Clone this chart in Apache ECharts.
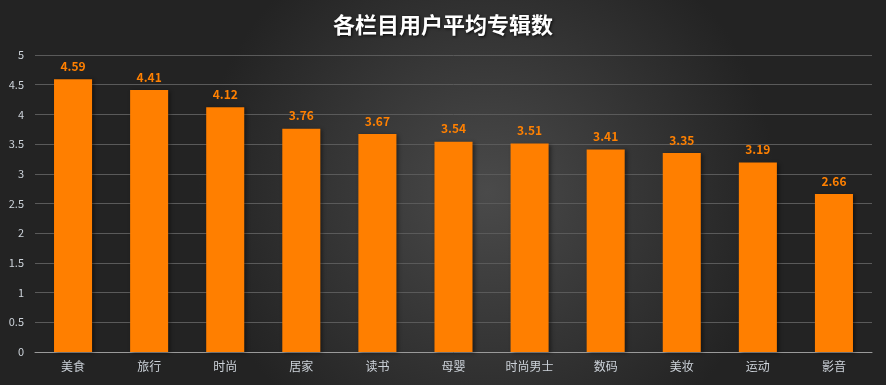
<!DOCTYPE html>
<html><head><meta charset="utf-8">
<script src="https://cdn.jsdelivr.net/npm/echarts@6/dist/echarts.min.js"></script>
<style>html,body{margin:0;padding:0;}#c{width:886px;height:385px;}</style>
</head><body><div id="c"></div>
<script>
const categories = ['美食','旅行','时尚','居家','读书','母婴','时尚男士','数码','美妆','运动','影音'];
const values = [4.59,4.41,4.12,3.76,3.67,3.54,3.51,3.41,3.35,3.19,2.66];
const yTicks = [0,0.5,1,1.5,2,2.5,3,3.5,4,4.5,5];
const title = '各栏目用户平均专辑数';
const chart = echarts.init(document.getElementById('c'));
const font = '"Noto Sans CJK SC", sans-serif';
chart.setOption({
  animation: false,
  backgroundColor: {type:'radial', x:0.55, y:0.5, r:0.75, colorStops:[{offset:0,color:'#4a4a4a'},{offset:1,color:'#232323'}]},
  title: {text: title, left:'center', top:9, textStyle:{color:'#ffffff', fontSize:22, fontWeight:'bold', fontFamily:font, textShadowColor:'rgba(0,0,0,0.8)', textShadowBlur:3, textShadowOffsetX:1, textShadowOffsetY:1}},
  grid: {left:35, right:14, top:55, bottom:33},
  xAxis: {type:'category', data:categories, axisLine:{lineStyle:{color:'#9a9a9a', width:1}}, axisTick:{show:false},
    axisLabel:{color:'#cdd3da', fontSize:12, fontFamily:font, margin:8}},
  yAxis: {type:'value', min:0, max:5, interval:0.5, axisLine:{show:false}, axisTick:{show:false},
    splitLine:{lineStyle:{color:'#5a5a5a', width:1}},
    axisLabel:{color:'#cdd3da', fontSize:11, fontFamily:font, margin:11, formatter: v => yTicks.includes(v) ? String(v) : ''}},
  series: [{type:'bar', data:values, barWidth:'50%',
    itemStyle:{color:'#ff7f00', shadowColor:'rgba(0,0,0,0.45)', shadowBlur:4, shadowOffsetX:2, shadowOffsetY:1},
    label:{show:true, position:'top', distance:7, color:'#ff8000', fontSize:12, fontWeight:'bold', fontFamily:font}}]
});
</script></body></html>
